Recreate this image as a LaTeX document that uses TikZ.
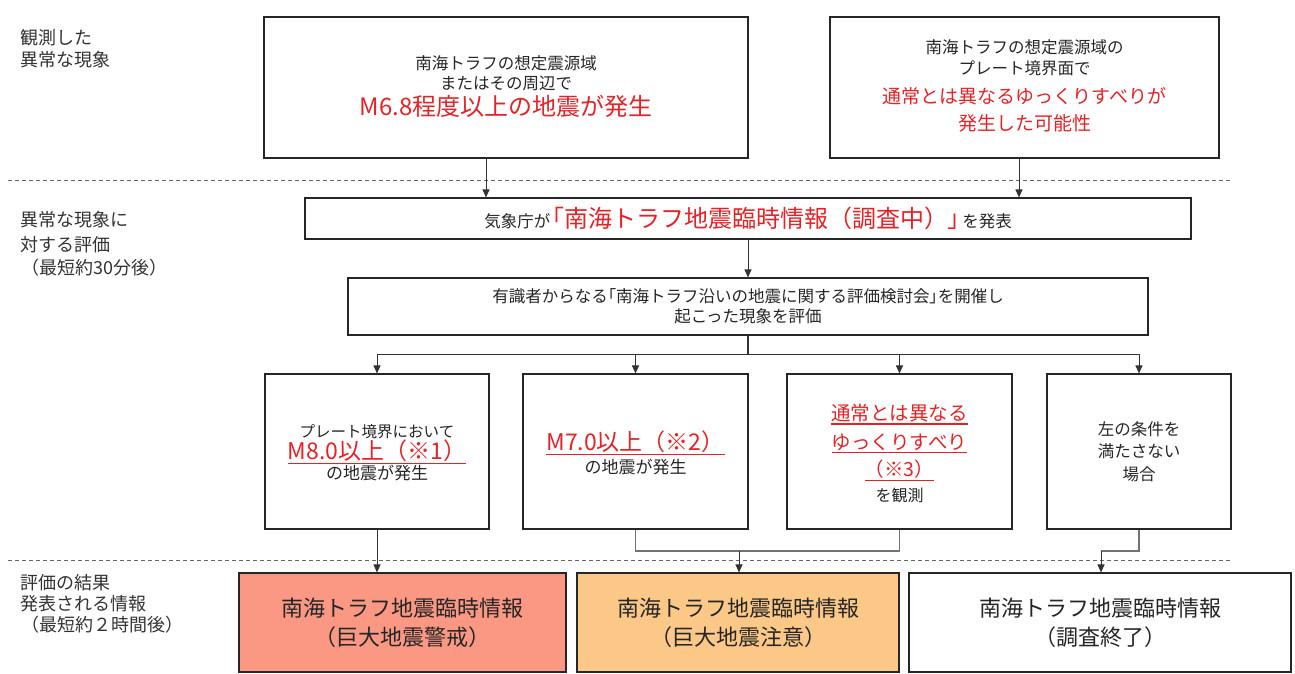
\documentclass[tikz,border=0pt]{standalone}
\usepackage{fontspec}
\setmainfont{Noto Sans CJK JP}
\newfontfamily\pfont{Noto Sans CJK JP}[RawFeature=+palt]
\usetikzlibrary{arrows.meta}
\definecolor{jred}{RGB}{228,35,40}
\definecolor{warnfill}{RGB}{250,152,132}
\definecolor{advfill}{RGB}{252,200,135}
\newcommand{\fsz}[2]{\fontsize{#1}{#2}\selectfont}
\newcommand{\rd}[1]{\textcolor{jred}{#1}}
\newcommand{\lbr}{{\pfont 「}}
\newcommand{\rbr}{{\pfont 」}}
\newcommand{\ulr}[1]{\setbox0\hbox{#1}\rlap{\rule[-4.2pt]{\wd0}{1.2pt}}\box0}
\begin{document}
\begin{tikzpicture}[x=1pt,y=-1pt,
  box/.style={draw=black!85, line width=1.1pt, fill=white, inner sep=0pt, align=center, text=black!85},
  txt/.style={inner sep=0pt, anchor=base, text=black!85},
  rtxt/.style={inner sep=0pt, anchor=base, text=jred},
  lab/.style={inner sep=0pt, anchor=base west, text=black!80, font=\fsz{18}{22}},
  conn/.style={draw=black!80, line width=1pt},
  gconn/.style={draw=black!55, line width=1.2pt},
  arr/.style={conn, -{Triangle[length=8pt,width=7pt]}},
  sepline/.style={draw=black!60, line width=1pt, dash pattern=on 4pt off 3pt}]

\useasboundingbox (0,0) rectangle (1295,674);
\fill[white] (0,0) rectangle (1295,674);

% separators
\draw[sepline] (8,180) -- (1230,180);
\draw[sepline] (8,560) -- (1230,560);

% left labels
\node[lab] (l1a) at (20,44.7) {観測した};
\node[lab] (l1b) at (20,66.7) {異常な現象};
\node[lab] (l2a) at (20,226.7) {異常な現象に};
\node[lab] (l2b) at (20,251.7) {対する評価};
\node[lab] (l2c) at (21,274.7) {（最短約30分後）};
\node[lab] (l3a) at (20,589.7) {評価の結果};
\node[lab] (l3b) at (20,610.7) {発表される情報};
\node[lab] (l3c) at (21,631.7) {（最短約２時間後）};

% top boxes
\node[box, minimum width=484pt, minimum height=141pt] (tl) at (506,87.5) {};
\node[txt, font=\fsz{16.5}{20}] (tl1) at (506,70) {南海トラフの想定震源域};
\node[txt, font=\fsz{16.5}{20}] (tl2) at (506,90) {またはその周辺で};
\node[rtxt, font=\fsz{24}{28}] (tl3) at (506,116) {M6.8程度以上の地震が発生};

\node[box, minimum width=389pt, minimum height=141pt] (tr) at (1024.5,87.5) {};
\node[txt, font=\fsz{16.5}{20}] (tr1) at (1024.5,54) {南海トラフの想定震源域の};
\node[txt, font=\fsz{16.5}{20}] (tr2) at (1024.5,75) {プレート境界面で};
\node[rtxt, font=\fsz{19}{24}] (tr3) at (1024.5,104) {通常とは異なるゆっくりすべりが};
\node[rtxt, font=\fsz{19}{24}] (tr4) at (1024.5,131) {発生した可能性};

% announcement boxes
\node[box, minimum width=886pt, minimum height=41pt, font=\fsz{16.5}{20}] (ks) at (748,218.5)
  {気象庁が\kern2pt{\fsz{24}{24}\rd{\lbr 南海トラフ地震臨時情報（調査中）\rbr}}\kern2pt を発表};
\node[box, minimum width=800pt, minimum height=57pt, font=\fsz{16.5}{20}] (yu) at (748,306.5)
  {有識者からなる\lbr 南海トラフ沿いの地震に関する評価検討会\rbr を開催し\\起こった現象を評価};

% evaluation boxes
\node[box, minimum width=224pt, minimum height=155pt] (b1) at (377,451.5) {};
\node[txt, font=\fsz{15.5}{20}] (b1a) at (377,437.7) {プレート境界において};
\node[rtxt, font=\fsz{23}{26}] (b1b) at (377,459.5) {\ulr{M8.0以上（※1）}};
\node[txt, font=\fsz{17}{20}] (b1c) at (377,479.3) {の地震が発生};

\node[box, minimum width=225pt, minimum height=155pt] (b2) at (635.5,451.5) {};
\node[rtxt, font=\fsz{23}{26}] (b2a) at (635.5,450.5) {\ulr{M7.0以上（※2）}};
\node[txt, font=\fsz{17}{20}] (b2b) at (635.5,473.3) {の地震が発生};

\node[box, minimum width=225pt, minimum height=155pt] (b3) at (899.5,451.5) {};
\node[rtxt, font=\fsz{19.5}{24}] (b3a) at (899.5,420.3) {\ulr{通常とは異なる}};
\node[rtxt, font=\fsz{19.5}{24}] (b3b) at (899.5,449) {\ulr{ゆっくりすべり}};
\node[rtxt, font=\fsz{19.5}{24}] (b3c) at (899.5,476.5) {\ulr{（※3）}};
\node[txt, font=\fsz{16}{20}] (b3d) at (899.5,501) {を観測};

\node[box, minimum width=184pt, minimum height=155pt, font=\fsz{16.5}{22.5}] (b4) at (1139,451.5)
  {左の条件を\\満たさない\\場合};

% result boxes
\node[box, fill=warnfill, minimum width=327pt, minimum height=99pt, font=\fsz{22}{29}] (r1) at (402.5,622.5)
  {南海トラフ地震臨時情報\\（巨大地震警戒）};
\node[box, fill=advfill, minimum width=322pt, minimum height=99pt, font=\fsz{22}{29}] (r2) at (738,622.5)
  {南海トラフ地震臨時情報\\（巨大地震注意）};
\node[box, minimum width=382pt, minimum height=99pt, font=\fsz{22}{29}] (r3) at (1100,622.5)
  {南海トラフ地震臨時情報\\（調査終了）};

% helper coordinates
\coordinate (a1) at (486,0);
\coordinate (a2) at (1019,0);
\coordinate (bry) at (0,354);
\coordinate (j2) at (0,551);
\coordinate (a3) at (739,0);
\coordinate (a4) at (1101,0);

% connectors
\draw[arr] (tl.south -| a1) -- (ks.north -| a1);
\draw[arr] (tr.south -| a2) -- (ks.north -| a2);
\draw[arr] (ks.south) -- (yu.north);
\draw[conn, line width=1.3pt] (yu.south) -- (yu.south |- bry);
\draw[conn] (b1.north |- bry) -- (b4.north |- bry);
\foreach \b in {b1,b2,b3,b4} \draw[arr] (\b.north |- bry) -- (\b.north);
\draw[arr] (b1.south) -- (b1.south |- r1.north);
\draw[gconn] (b2.south) -- (b2.south |- j2) -- (b3.south |- j2) -- (b3.south);
\draw[arr] (a3 |- j2) -- (a3 |- r2.north);
\draw[gconn] (b4.south) -- (b4.south |- j2) -- (a4 |- j2);
\draw[arr] (a4 |- j2) -- (a4 |- r3.north);
\end{tikzpicture}
\end{document}
